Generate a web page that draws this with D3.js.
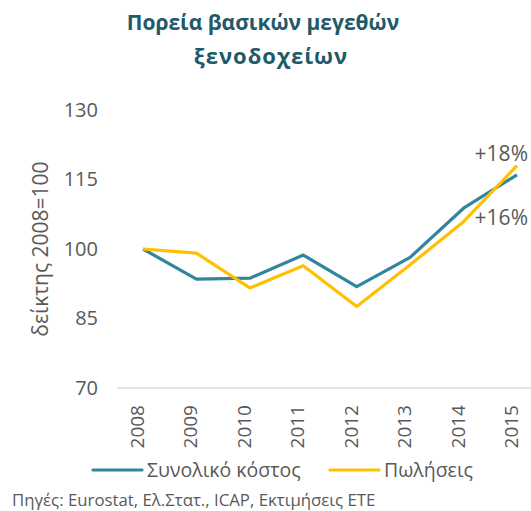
<!DOCTYPE html>
<html>
<head>
<meta charset="utf-8">
<script src="https://cdn.jsdelivr.net/npm/d3@7"></script>
<style>
  body { margin: 0; background: #fff; }
  svg text { font-family: "Open Sans", sans-serif; fill: #595959; }
</style>
</head>
<body>
<div id="chart"></div>
<script>
'use strict';
const years = ['2008', '2009', '2010', '2011', '2012', '2013', '2014', '2015'];
const totalCost = [100, 93.5, 93.7, 98.7, 91.9, 98.2, 108.8, 116];
const sales = [100, 99.1, 91.6, 96.4, 87.6, 96.6, 105.9, 118];
const yTicks = [70, 85, 100, 115, 130];
const seriesNames = ['Συνολικό κόστος', 'Πωλήσεις'];

((d3) => {
    const width = 531;
    const height = 511;
    const colors = ['#31859C', '#FFC000'];

    const svg = d3.select('#chart')
        .append('svg')
        .attr('width', width)
        .attr('height', height);

//title
    const title = svg.append('text')
        .attr('text-anchor', 'middle')
        .style('font-weight', 'bold')
        .style('font-size', '21px')
        .style('fill', '#215968');
    title.append('tspan').attr('x', 263).attr('y', 30).text('Πορεία βασικών μεγεθών');
    title.append('tspan').attr('x', 271).attr('y', 64)
        .style('letter-spacing', '1px')
        .style('font-size', '22px')
        .text('ξενοδοχείων');

//scales
    const x = d3.scalePoint()
        .domain(years)
        .range([143, 517]);
    const y = d3.scaleLinear()
        .domain([70, 130])
        .range([388, 110]);

//y axis (labels only)
    const yAxis = svg.append('g')
        .attr('transform', 'translate(98,0)')
        .call(d3.axisLeft(y).tickValues(yTicks).tickSize(0).tickPadding(0));
    yAxis.select('.domain').remove();
    yAxis.selectAll('text')
        .style('font-size', '20px')
        .style('font-family', '"Open Sans", sans-serif')
        .attr('fill', '#595959');

    svg.append('text')
        .attr('transform', 'translate(48,' + y(100) + ') rotate(-90)')
        .attr('text-anchor', 'middle')
        .style('font-size', '21px')
        .text('δείκτης 2008=100');

//x axis
    svg.append('line')
        .attr('x1', 117)
        .attr('x2', width)
        .attr('y1', y(70))
        .attr('y2', y(70))
        .attr('stroke', '#d9d9d9')
        .attr('stroke-width', 1.3);

    svg.selectAll('.xlabel')
        .data(years)
        .enter()
        .append('text')
        .attr('class', 'xlabel')
        .attr('transform', (d) => 'translate(' + x(d) + ',' + (y(70) + 17) + ') rotate(-90)')
        .attr('text-anchor', 'end')
        .attr('dy', '0.05em')
        .style('font-size', '19px')
        .text((d) => d);

//lines
    const line = d3.line()
        .x((d, i) => x(years[i]))
        .y((d) => y(d));

    svg.selectAll('.series')
        .data([totalCost, sales])
        .enter()
        .append('path')
        .attr('class', 'series')
        .attr('d', line)
        .attr('fill', 'none')
        .attr('stroke', (d, i) => colors[i])
        .attr('stroke-width', 3.2)
        .attr('stroke-linejoin', 'round');

//end labels
    const last = years.length - 1;
    svg.append('text')
        .attr('x', 528)
        .attr('y', y(sales[last]) - 5)
        .attr('text-anchor', 'end')
        .style('font-size', '21px')
        .text('+' + Math.round(sales[last] - 100) + '%');
    svg.append('text')
        .attr('x', 528)
        .attr('y', y(totalCost[last]) + 50)
        .attr('text-anchor', 'end')
        .style('font-size', '21px')
        .text('+' + Math.round(totalCost[last] - 100) + '%');

//legend
    const legendX = [93, 330];
    const legend = svg.selectAll('.legend')
        .data(seriesNames)
        .enter()
        .append('g')
        .attr('class', 'legend')
        .attr('transform', (d, i) => 'translate(' + legendX[i] + ',470)');
    legend.append('line')
        .attr('x1', 0)
        .attr('x2', 49)
        .attr('stroke', (d, i) => colors[i])
        .attr('stroke-width', 3.2)
        .attr('stroke-linecap', 'round');
    legend.append('text')
        .attr('x', 54)
        .attr('dy', '0.35em')
        .style('font-size', '19.5px')
        .text((d) => d);

//source
    svg.append('text')
        .attr('x', 12)
        .attr('y', 506)
        .style('font-size', '16.8px')
        .text('Πηγές: Eurostat, Ελ.Στατ., ICAP, Εκτιμήσεις ΕΤΕ');

})(window.d3);
</script>
</body>
</html>
